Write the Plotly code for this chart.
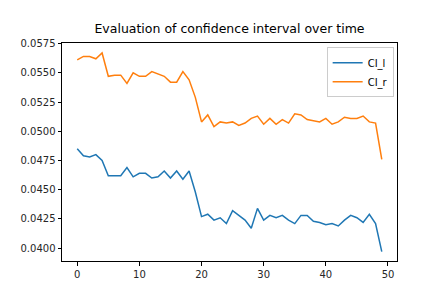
import plotly.graph_objects as go

x = list(range(50))
ci_l = [0.0485, 0.0479, 0.0478, 0.0480, 0.0475, 0.0462, 0.0462, 0.0462, 0.0469, 0.0461,
        0.0464, 0.0464, 0.0460, 0.0461, 0.0466, 0.0460, 0.0466, 0.0459, 0.0466, 0.0448,
        0.0427, 0.0429, 0.0424, 0.0426, 0.0421, 0.0432, 0.0428, 0.0424, 0.0417, 0.0434,
        0.0424, 0.0428, 0.0426, 0.0428, 0.0424, 0.0421, 0.0428, 0.0428, 0.0423, 0.0422,
        0.0420, 0.0421, 0.0419, 0.0424, 0.0428, 0.0426, 0.0422, 0.0429, 0.0421, 0.0397]
ci_r = [0.0561, 0.0564, 0.0564, 0.0562, 0.0567, 0.0547, 0.0548, 0.0548, 0.0541, 0.0550,
        0.0547, 0.0547, 0.0551, 0.0549, 0.0547, 0.0542, 0.0542, 0.0551, 0.0544, 0.0529,
        0.0508, 0.0514, 0.0504, 0.0508, 0.0507, 0.0508, 0.0505, 0.0507, 0.0511, 0.0513,
        0.0506, 0.0511, 0.0506, 0.0510, 0.0507, 0.0515, 0.0514, 0.0510, 0.0509, 0.0508,
        0.0511, 0.0506, 0.0508, 0.0512, 0.0511, 0.0511, 0.0513, 0.0508, 0.0507, 0.0476]
y_ticks = [0.0400, 0.0425, 0.0450, 0.0475, 0.0500, 0.0525, 0.0550, 0.0575]
x_ticks = [0, 10, 20, 30, 40, 50]

fig = go.Figure()
fig.add_trace(go.Scatter(x=x, y=ci_l, mode="lines", name="CI_l",
                         line=dict(color="#1f77b4", width=1.5)))
fig.add_trace(go.Scatter(x=x, y=ci_r, mode="lines", name="CI_r",
                         line=dict(color="#ff7f0e", width=1.5)))

axis_common = dict(showline=True, linecolor="black", linewidth=1, mirror=True,
                   ticks="outside", ticklen=3.5, tickcolor="black", showgrid=False,
                   zeroline=False, tickfont=dict(family="DejaVu Sans", size=10, color="#262626"))
fig.update_layout(
    width=432, height=288,
    margin=dict(l=54, r=43, t=35, b=35),
    paper_bgcolor="white", plot_bgcolor="white",
    font=dict(family="DejaVu Sans", size=10, color="black"),
    title=dict(text="Evaluation of confidence interval over time",
               xref="paper", x=0.5, xanchor="center",
               yref="container", y=0.93, yanchor="middle",
               font=dict(family="DejaVu Sans", size=12.5, color="black")),
    xaxis=dict(range=[-2.45, 51.45], tickvals=x_ticks, **axis_common),
    yaxis=dict(range=[0.0389, 0.05755], tickvals=y_ticks, tickformat=".4f", **axis_common),
    legend=dict(x=0.99, y=0.98, xanchor="right", yanchor="top",
                bordercolor="#cccccc", borderwidth=1, bgcolor="rgba(255,255,255,0.8)",
                font=dict(family="DejaVu Sans", size=10), tracegroupgap=0),
    showlegend=True,
)
fig.write_html("out.html")
